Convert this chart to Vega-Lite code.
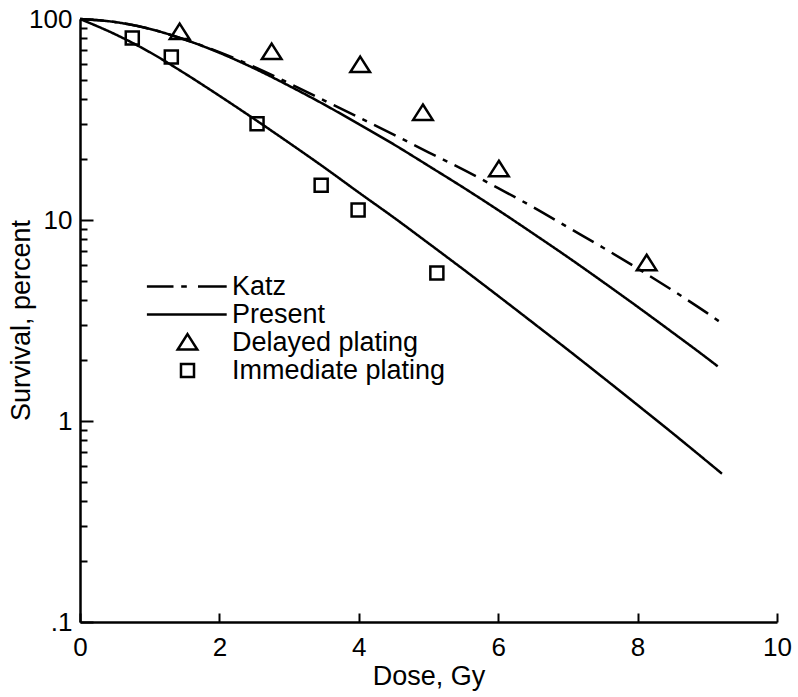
{
  "$schema": "https://vega.github.io/schema/vega-lite/v6.json",
  "width": 697,
  "height": 603,
  "autosize": {"type": "none"},
  "padding": {"left": 80, "top": 19, "right": 21, "bottom": 75},
  "background": "white",
  "config": {
    "view": {"stroke": null},
    "font": "Liberation Sans",
    "axis": {"grid": false, "domainColor": "black", "domainWidth": 2.5, "tickColor": "black", "tickWidth": 2, "labelColor": "black", "titleColor": "black", "labelFont": "Liberation Sans", "titleFont": "Liberation Sans", "labelFontSize": 26, "titleFontSize": 27, "titleFontWeight": "normal"}
  },
  "resolve": {"axis": {"y": "independent"}},
  "datasets": {
    "curves": [
      {"id": "katz", "curve": "Katz", "dose": 0, "survival": 100},
      {"id": "katz", "curve": "Katz", "dose": 0.5, "survival": 96.6},
      {"id": "katz", "curve": "Katz", "dose": 1, "survival": 89.3},
      {"id": "katz", "curve": "Katz", "dose": 1.5, "survival": 79.1},
      {"id": "katz", "curve": "Katz", "dose": 2, "survival": 68.4},
      {"id": "katz", "curve": "Katz", "dose": 2.5, "survival": 57.8},
      {"id": "katz", "curve": "Katz", "dose": 3, "survival": 47.9},
      {"id": "katz", "curve": "Katz", "dose": 3.5, "survival": 39.4},
      {"id": "katz", "curve": "Katz", "dose": 4, "survival": 32.4},
      {"id": "katz", "curve": "Katz", "dose": 4.5, "survival": 26.6},
      {"id": "katz", "curve": "Katz", "dose": 5, "survival": 21.7},
      {"id": "katz", "curve": "Katz", "dose": 5.5, "survival": 17.8},
      {"id": "katz", "curve": "Katz", "dose": 6, "survival": 14.4},
      {"id": "katz", "curve": "Katz", "dose": 6.5, "survival": 11.6},
      {"id": "katz", "curve": "Katz", "dose": 7, "survival": 9.2},
      {"id": "katz", "curve": "Katz", "dose": 7.5, "survival": 7.3},
      {"id": "katz", "curve": "Katz", "dose": 8, "survival": 5.74},
      {"id": "katz", "curve": "Katz", "dose": 8.5, "survival": 4.47},
      {"id": "katz", "curve": "Katz", "dose": 9, "survival": 3.44},
      {"id": "katz", "curve": "Katz", "dose": 9.21, "survival": 3.06},
      {"id": "delayed", "curve": "Present", "dose": 0, "survival": 100},
      {"id": "delayed", "curve": "Present", "dose": 0.5, "survival": 96.6},
      {"id": "delayed", "curve": "Present", "dose": 1, "survival": 89.3},
      {"id": "delayed", "curve": "Present", "dose": 1.5, "survival": 79.1},
      {"id": "delayed", "curve": "Present", "dose": 2, "survival": 67.9},
      {"id": "delayed", "curve": "Present", "dose": 2.5, "survival": 56.8},
      {"id": "delayed", "curve": "Present", "dose": 3, "survival": 46.5},
      {"id": "delayed", "curve": "Present", "dose": 3.5, "survival": 37.6},
      {"id": "delayed", "curve": "Present", "dose": 4, "survival": 30.0},
      {"id": "delayed", "curve": "Present", "dose": 4.5, "survival": 23.8},
      {"id": "delayed", "curve": "Present", "dose": 5, "survival": 18.6},
      {"id": "delayed", "curve": "Present", "dose": 5.5, "survival": 14.5},
      {"id": "delayed", "curve": "Present", "dose": 6, "survival": 11.2},
      {"id": "delayed", "curve": "Present", "dose": 6.5, "survival": 8.57},
      {"id": "delayed", "curve": "Present", "dose": 7, "survival": 6.53},
      {"id": "delayed", "curve": "Present", "dose": 7.5, "survival": 4.93},
      {"id": "delayed", "curve": "Present", "dose": 8, "survival": 3.70},
      {"id": "delayed", "curve": "Present", "dose": 8.5, "survival": 2.76},
      {"id": "delayed", "curve": "Present", "dose": 9, "survival": 2.05},
      {"id": "delayed", "curve": "Present", "dose": 9.15, "survival": 1.87},
      {"id": "immediate", "curve": "Present", "dose": 0, "survival": 100},
      {"id": "immediate", "curve": "Present", "dose": 0.5, "survival": 84.1},
      {"id": "immediate", "curve": "Present", "dose": 1, "survival": 68.4},
      {"id": "immediate", "curve": "Present", "dose": 1.5, "survival": 53.7},
      {"id": "immediate", "curve": "Present", "dose": 2, "survival": 41.5},
      {"id": "immediate", "curve": "Present", "dose": 2.5, "survival": 31.8},
      {"id": "immediate", "curve": "Present", "dose": 3, "survival": 24.2},
      {"id": "immediate", "curve": "Present", "dose": 3.5, "survival": 18.3},
      {"id": "immediate", "curve": "Present", "dose": 4, "survival": 13.7},
      {"id": "immediate", "curve": "Present", "dose": 4.5, "survival": 10.3},
      {"id": "immediate", "curve": "Present", "dose": 5, "survival": 7.66},
      {"id": "immediate", "curve": "Present", "dose": 5.5, "survival": 5.68},
      {"id": "immediate", "curve": "Present", "dose": 6, "survival": 4.19},
      {"id": "immediate", "curve": "Present", "dose": 6.5, "survival": 3.08},
      {"id": "immediate", "curve": "Present", "dose": 7, "survival": 2.26},
      {"id": "immediate", "curve": "Present", "dose": 7.5, "survival": 1.65},
      {"id": "immediate", "curve": "Present", "dose": 8, "survival": 1.20},
      {"id": "immediate", "curve": "Present", "dose": 8.5, "survival": 0.871},
      {"id": "immediate", "curve": "Present", "dose": 9, "survival": 0.628},
      {"id": "immediate", "curve": "Present", "dose": 9.21, "survival": 0.547}
    ],
    "points": [
      {"series": "Delayed plating", "dose": 1.43, "survival": 86.2},
      {"series": "Delayed plating", "dose": 2.75, "survival": 68.5},
      {"series": "Delayed plating", "dose": 4.02, "survival": 59.0},
      {"series": "Delayed plating", "dose": 4.92, "survival": 34.1},
      {"series": "Delayed plating", "dose": 6.01, "survival": 17.9},
      {"series": "Delayed plating", "dose": 8.13, "survival": 6.1},
      {"series": "Immediate plating", "dose": 0.75, "survival": 80.4},
      {"series": "Immediate plating", "dose": 1.31, "survival": 64.7},
      {"series": "Immediate plating", "dose": 2.54, "survival": 30.1},
      {"series": "Immediate plating", "dose": 3.46, "survival": 14.9},
      {"series": "Immediate plating", "dose": 3.99, "survival": 11.2},
      {"series": "Immediate plating", "dose": 5.12, "survival": 5.45}
    ]
  },
  "encoding": {
    "x": {
      "field": "dose", "type": "quantitative",
      "scale": {"domain": [0, 10], "nice": false, "zero": false},
      "axis": {"title": "Dose, Gy", "values": [0, 2, 4, 6, 8, 10], "tickSize": -9, "labelPadding": 21, "titlePadding": 3, "labelFlush": false}
    }
  },
  "layer": [
    {
      "data": {"name": "curves"},
      "mark": {"type": "line", "interpolate": "monotone", "color": "black", "strokeWidth": 2.5},
      "encoding": {
        "y": {
          "field": "survival", "type": "quantitative",
          "scale": {"type": "log", "domain": [0.1, 100], "nice": false},
          "axis": {
            "orient": "left",
            "title": "Survival, percent",
            "values": [0.1, 1, 10, 100],
            "tickSize": -13,
            "labelExpr": "datum.value == 0.1 ? '.1' : datum.label",
            "labelPadding": 21,
            "labelFlush": false,
            "titleX": -59,
            "titleY": 301,
            "titleBaseline": "middle",
            "titleAlign": "center"
          }
        },
        "detail": {"field": "id"},
        "strokeDash": {"field": "curve", "type": "nominal", "scale": {"domain": ["Katz", "Present"], "range": [[24, 8, 5, 8], [1, 0]]}, "legend": null}
      }
    },
    {
      "data": {"name": "points"},
      "mark": {"type": "point", "filled": false, "color": "black", "strokeWidth": 2.5, "size": 196, "opacity": 1},
      "encoding": {
        "y": {
          "field": "survival", "type": "quantitative",
          "scale": {"type": "log", "domain": [0.1, 100], "nice": false},
          "axis": {
            "orient": "left",
            "title": null,
            "values": [0.2, 0.3, 0.4, 0.5, 0.6, 0.7, 0.8, 0.9, 2, 3, 4, 5, 6, 7, 8, 9, 20, 30, 40, 50, 60, 70, 80, 90],
            "tickSize": -7,
            "labels": false,
            "domain": false
          }
        },
        "shape": {
          "field": "series", "type": "nominal",
          "scale": {"domain": ["Katz", "Present", "Delayed plating", "Immediate plating"], "range": ["M-5.8,0H-2M-0.9,0H-0.1M1.5,0H5.6", "M-5.8,0H5.6", "M0,-1.2L1.4,1.0L-1.4,1.0Z", "M-0.93,-0.93H0.93V0.93H-0.93Z"]},
          "legend": {
            "title": null, "orient": "none", "legendX": 94, "legendY": 254, "padding": 0,
            "labelFontSize": 27, "labelFont": "Liberation Sans", "labelColor": "black", "labelOffset": 31,
            "symbolStrokeColor": "black", "symbolStrokeWidth": 2.5, "symbolFillColor": "transparent", "symbolSize": 196, "rowPadding": 0,
            "labelLimit": 400
          }
        }
      }
    }
  ]
}
